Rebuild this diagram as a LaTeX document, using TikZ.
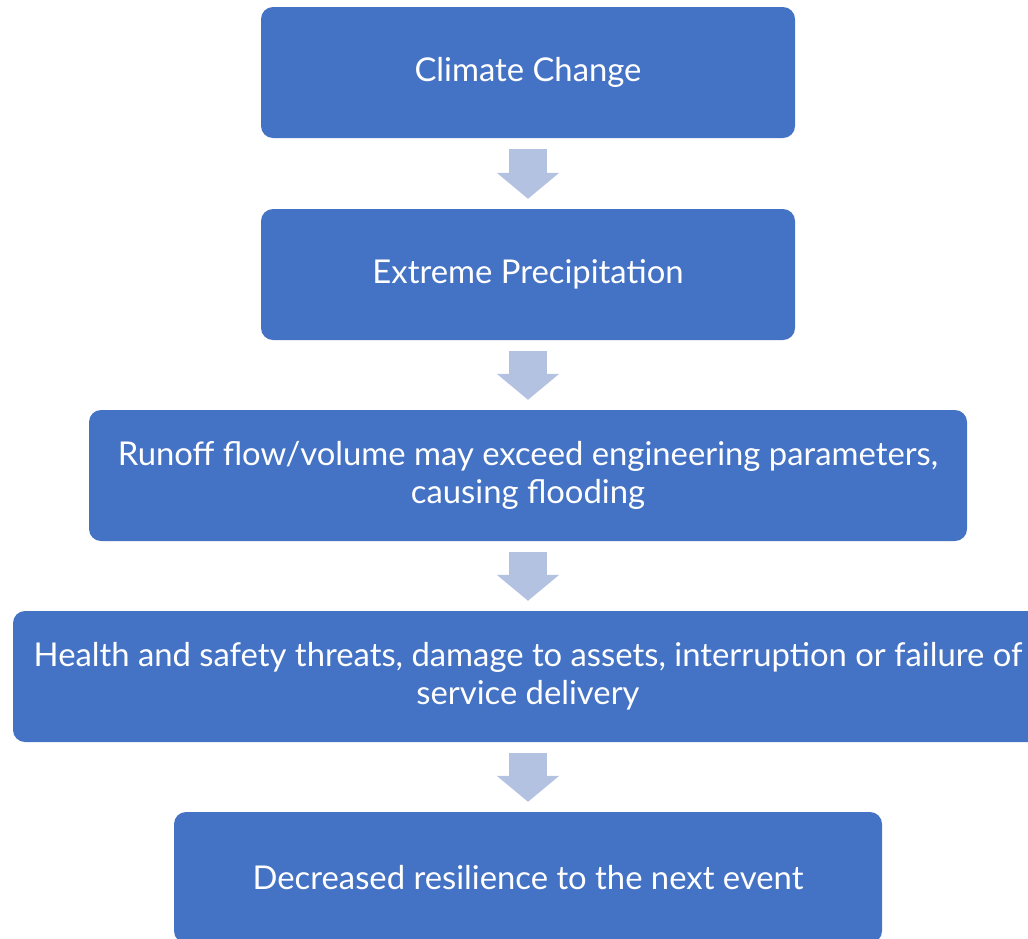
\documentclass[tikz,border=0pt]{standalone}
\usepackage{fontspec}
\setmainfont{Lato}
\usetikzlibrary{arrows.meta}
\definecolor{boxblue}{HTML}{4472C4}
\definecolor{arrowblue}{HTML}{B4C2E2}
\begin{document}
\begin{tikzpicture}[x=1pt,y=-1pt,
  stepbox/.style={rectangle, rounded corners=12pt, fill=boxblue, text=white,
    minimum height=131pt, inner sep=0pt, align=center,
    font=\fontsize{32.8}{38}\selectfont},
  flowarrow/.style={draw=arrowblue, line width=38pt, shorten <=11pt, shorten >=10pt,
    -{Triangle[width=61pt,length=26pt]}}]
\useasboundingbox (0,0) rectangle (1028,938);
\clip (0,0) rectangle (1028,938);
% flow of boxes, all centred on one vertical axis
\node[stepbox, minimum width=534pt] (b1) at (528,72.5) {Climate Change};
\node[stepbox, minimum width=534pt] (b2) at (528,274.5) {Extreme Precipitation};
\node[stepbox, minimum width=878pt] (b3) at (528,475.5) {Runoff flow/volume may exceed engineering parameters,\\causing flooding};
\node[stepbox, minimum width=1030pt] (b4) at (528,676.5) {Health and safety threats, damage to assets, interruption or failure of\\service delivery};
\node[stepbox, minimum width=708pt] (b5) at (528,877.5) {Decreased resilience to the next event};
% block arrows between steps
\draw[flowarrow] (b1.south) -- (b2.north);
\draw[flowarrow] (b2.south) -- (b3.north);
\draw[flowarrow] (b3.south) -- (b4.north);
\draw[flowarrow] (b4.south) -- (b5.north);
\end{tikzpicture}
\end{document}
